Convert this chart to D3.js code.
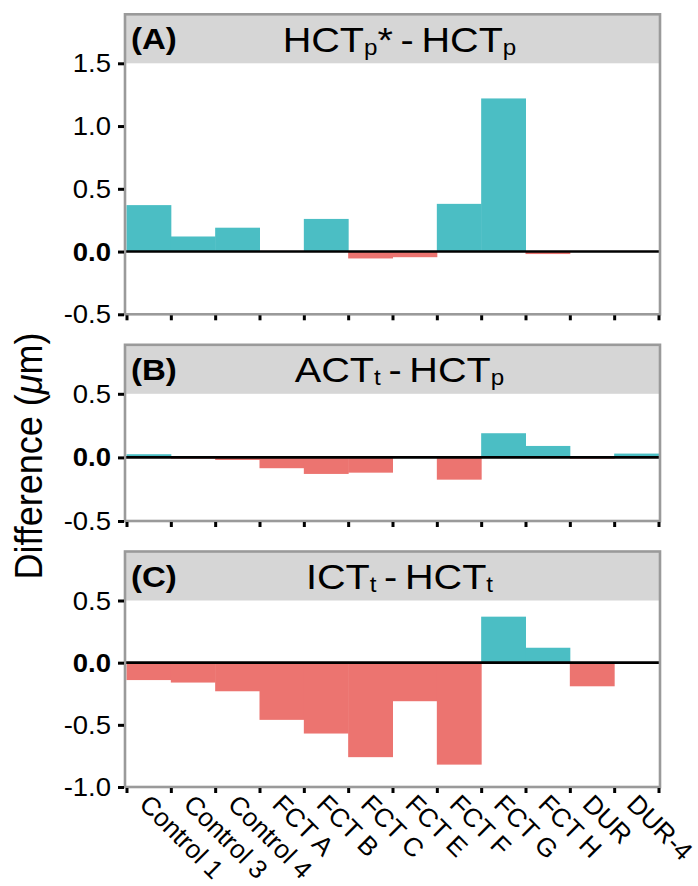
<!DOCTYPE html>
<html>
<head>
<meta charset="utf-8">
<script src="https://cdn.jsdelivr.net/npm/d3@7"></script>
<style>
  body { margin: 0; background: #fff; }
  text { font-family: "Liberation Sans", Arial, Helvetica, sans-serif; fill: #000; }
</style>
</head>
<body>
<script>
// data
const categories = ["Control 1", "Control 3", "Control 4", "FCT A", "FCT B", "FCT C",
                    "FCT E", "FCT F", "FCT G", "FCT H", "DUR", "DUR-4"];
const diffA = [0.37, 0.12, 0.19, 0, 0.26, -0.055, -0.045, 0.38, 1.22, -0.02, 0, 0];
const diffB = [0.025, -0.01, -0.02, -0.085, -0.13, -0.12, 0, -0.175, 0.19, 0.09, -0.01, 0.03];
const diffC = [-0.14, -0.16, -0.23, -0.46, -0.57, -0.76, -0.31, -0.82, 0.37, 0.12, -0.19, 0];
const yTicksA = [-0.5, 0, 0.5, 1, 1.5];
const yTicksB = [-0.5, 0, 0.5];
const yTicksC = [-1, -0.5, 0, 0.5];
const panelTags = ["(A)", "(B)", "(C)"];
// title pieces alternate: normal, subscript, normal, subscript
const titleA = ["HCT", "p", "* - HCT", "p"];
const titleB = ["ACT", "t", " - HCT", "p"];
const titleC = ["ICT", "t", " - HCT", "t"];

const width = 698;
const height = 886;
const teal = "#4bbec4";
const red = "#ec7470";
const stretch = 1.1;   // the source figure is a little wider than tall
const xLeft = 126.5;
const xRight = 658.5;
const stripHeight = 49;

const svg = d3.select("body")
    .append("svg")
    .attr("width", width)
    .attr("height", height);

const x = d3.scaleBand().domain(categories).range([xLeft, xRight]).padding(0);
const xEdge = d3.scaleLinear().domain([0, categories.length]).range([xLeft, xRight]);

const panels = [
    { tag: panelTags[0], title: titleA, values: diffA, ticks: yTicksA, domain: [-0.5, 1.5], range: [314.3, 63.3] },
    { tag: panelTags[1], title: titleB, values: diffB, ticks: yTicksB, domain: [-0.5, 0.5], range: [521, 393.8] },
    { tag: panelTags[2], title: titleC, values: diffC, ticks: yTicksC, domain: [-1, 0.5], range: [787, 600.5] },
];

panels.forEach((p) => {
    const y = d3.scaleLinear().domain(p.domain).range(p.range);
    const top = p.range[1];
    const bottom = p.range[0];
    const stripTop = top - stripHeight;
    const g = svg.append("g");

    // strip
    g.append("rect")
        .attr("x", xLeft - 1.5)
        .attr("y", stripTop)
        .attr("width", xRight - xLeft + 3)
        .attr("height", stripHeight)
        .attr("fill", "#d6d6d6");

    // bars
    const rows = p.values.map((v, i) => ({ cat: categories[i], v: v })).filter(d => d.v !== 0);
    g.selectAll("rect.bar")
        .data(rows)
        .enter()
        .append("rect")
        .attr("class", "bar")
        .attr("x", d => x(d.cat))
        .attr("width", x.bandwidth() + 0.5)
        .attr("y", d => y(Math.max(0, d.v)))
        .attr("height", d => Math.abs(y(d.v) - y(0)))
        .attr("fill", d => d.v > 0 ? teal : red);

    // zero line
    g.append("line")
        .attr("x1", xLeft - 1)
        .attr("x2", xRight + 1)
        .attr("y1", y(0))
        .attr("y2", y(0))
        .attr("stroke", "#000")
        .attr("stroke-width", 2.6);

    // panel border
    g.append("rect")
        .attr("x", xLeft - 1.5)
        .attr("y", stripTop)
        .attr("width", xRight - xLeft + 3)
        .attr("height", bottom - stripTop)
        .attr("fill", "none")
        .attr("stroke", "#9a9a9a")
        .attr("stroke-width", 2.6);

    // y ticks
    const yAxis = g.append("g")
        .attr("transform", "translate(" + (xLeft - 2.5) + ",0)")
        .call(d3.axisLeft(y).tickValues(p.ticks).tickSize(6).tickFormat(""));
    yAxis.select(".domain").remove();
    yAxis.selectAll("line").attr("stroke", "#000").attr("stroke-width", 3);

    g.selectAll("text.ytick")
        .data(p.ticks)
        .enter()
        .append("text")
        .attr("class", "ytick")
        .attr("transform", d => "translate(111," + y(d) + ") scale(" + stretch + ",1)")
        .attr("text-anchor", "end")
        .attr("dy", "0.36em")
        .style("font-size", "25px")
        .style("font-weight", d => d === 0 ? "bold" : "normal")
        .text(d => d.toFixed(1));

    // x ticks (at bar edges)
    const xAxis = g.append("g")
        .attr("transform", "translate(0," + (bottom + 1) + ")")
        .call(d3.axisBottom(xEdge).tickValues(d3.range(categories.length + 1)).tickSize(5).tickFormat(""));
    xAxis.select(".domain").remove();
    xAxis.selectAll("line").attr("stroke", "#000").attr("stroke-width", 3);

    // strip texts
    g.append("text")
        .attr("transform", "translate(131," + (stripTop + 35) + ") scale(" + stretch + ",1)")
        .style("font-size", "30px")
        .style("font-weight", "bold")
        .text(p.tag);

    const title = g.append("text")
        .attr("transform", "translate(399.5," + (stripTop + 37.5) + ") scale(" + stretch + ",1)")
        .attr("text-anchor", "middle")
        .style("font-size", "36px")
        .style("word-spacing", "-3px");
    p.title.forEach((s, i) => {
        const sub = i % 2 === 1;
        title.append("tspan")
            .attr("dy", sub ? 3 : (i === 0 ? 0 : -3))
            .style("font-size", sub ? "22px" : "36px")
            .text(s);
    });

    // category labels on the bottom panel only
    if (p === panels[panels.length - 1]) {
        g.selectAll("text.xlab")
            .data(categories)
            .enter()
            .append("text")
            .attr("class", "xlab")
            .attr("transform", d => "translate(" + (x(d) + x.bandwidth() / 2 + 3) + ",792) rotate(45)")
            .attr("dy", "0.75em")
            .style("font-size", "26px")
            .text(d => d);
    }
});

// y axis title
const yTitle = svg.append("text")
    .attr("transform", "translate(42,456) scale(" + stretch + ",1) rotate(-90)")
    .attr("text-anchor", "middle")
    .style("font-size", "36px");
yTitle.append("tspan").text("Difference (");
yTitle.append("tspan").style("font-style", "italic").text("\u03bc");
yTitle.append("tspan").text("m)");
</script>
</body>
</html>
